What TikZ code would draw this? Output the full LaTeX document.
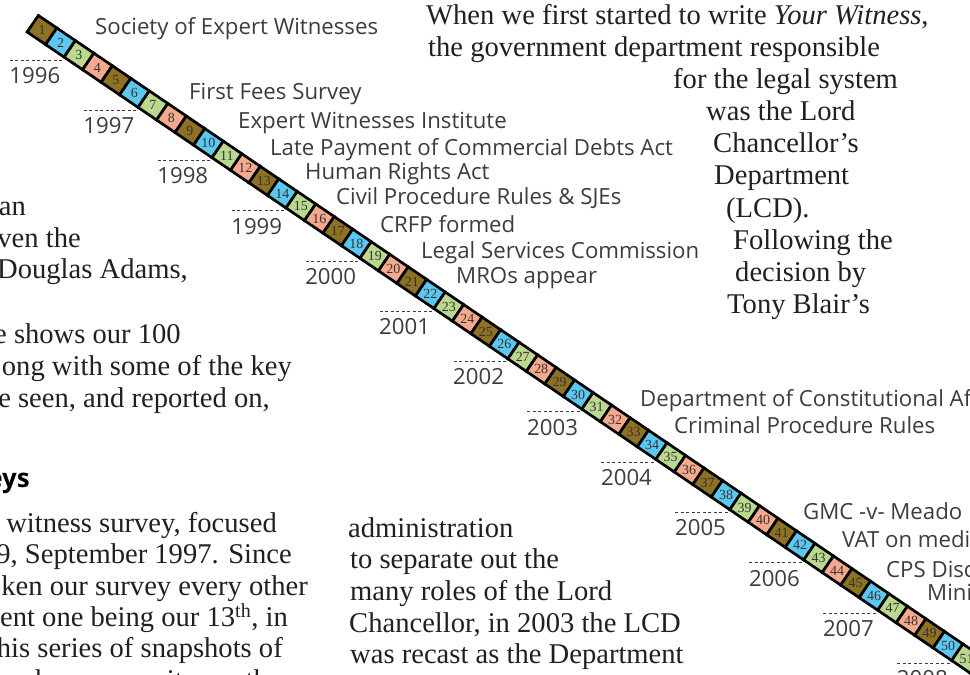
\documentclass[tikz,border=0pt]{standalone}
\usepackage{fontspec}
\setmainfont{Liberation Serif}
\newfontfamily\evfont{Open Sans}
\usepackage{xcolor}
\usetikzlibrary{positioning}
\definecolor{sqfill0}{HTML}{8E7122}
\definecolor{sqfill1}{HTML}{5CC8F2}
\definecolor{sqfill2}{HTML}{BAD98E}
\definecolor{sqfill3}{HTML}{F6AA8D}
\definecolor{evgray}{HTML}{3C3C3C}
\definecolor{bodyblack}{HTML}{231F20}

\begin{document}
\begin{tikzpicture}[
    x=1bp, y=-1bp,
    sq/.style={draw=black, line width=2.7bp, minimum width=22.36bp, minimum height=20bp,
               inner sep=0pt, rotate=-34.2},
    sqnum/.style={font=\fontsize{14}{14}\selectfont, text=black!80, inner sep=0pt},
    event/.style={font=\evfont\fontsize{22.3}{24}\selectfont, text=evgray, anchor=base west, inner sep=0pt},
    yearlbl/.style={event, anchor=north west},
    yeardash/.style={dash pattern=on 3bp off 2.5bp, line width=0.9bp, evgray},
    body/.style={font=\fontsize{28.7}{31.7}\selectfont, text=bodyblack, anchor=base west, inner sep=0pt},
    bodyr/.style={body, anchor=base east},
    head/.style={font=\evfont\bfseries\fontsize{26}{28}\selectfont, text=black, anchor=base east, inner sep=0pt},
]
\useasboundingbox (0,0) rectangle (970,675);
\clip (0,0) rectangle (970,675);

% Timeline strip
\foreach \i in {1,...,52}{
  \pgfmathtruncatemacro{\c}{mod(\i-1,4)}
  \node[sq, fill=sqfill\c] (sq\i) at ({42+(\i-1)*18.49},{30+(\i-1)*12.57}) {};
  \node[sqnum] at (sq\i) {\i};
}

% Year markers
\foreach \yr [count=\k from 0] in {1996,...,2008}{
  \pgfmathtruncatemacro{\n}{3+4*\k}
  \draw[yeardash] ([yshift=-2.5bp]sq\n.south west) -- ++(-53,0) coordinate (ys\k);
  \node[yearlbl] (yr\yr) at ([yshift=-7bp]ys\k) {\yr};
}

% Events
\node[event] (ev1) at (95,35) {Society of Expert Witnesses};
\node[event] (ev2) at (189,100) {First Fees Survey};
\node[event] (ev3) at (238,129) {Expert Witnesses Institute};
\node[event] (ev4) at (270,156) {Late Payment of Commercial Debts Act};
\node[event] (ev5) at (305,180) {Human Rights Act};
\node[event] (ev6) at (336,204) {Civil Procedure Rules \& SJEs};
\node[event] (ev7) at (380,232) {CRFP formed};
\node[event] (ev8) at (421,258) {Legal Services Commission};
\node[event] (ev9) at (456,283) {MROs appear};
\node[event] (ev10) at (640,406) {Department of Constitutional Af};
\node[event] (ev11) at (674,433) {Criminal Procedure Rules};
\node[event] (ev12) at (803,519) {GMC -v- Meado};
\node[event] (ev13) at (842,547) {VAT on medi};
\node[event] (ev14) at (886,577) {CPS Disc};
\node[event] (ev15) at (927,600) {Mini};

% Body text, top right
\node[body] (tr1) at (426,25) {When we first started to write \textit{Your Witness},};
\node[body] (tr2) at (428,57) {the government department responsible};
\node[body] (tr3) at (673,89) {for the legal system};
\node[body] (tr4) at (706,121) {was the Lord};
\node[body] (tr5) at (713,153) {Chancellor's};
\node[body] (tr6) at (714,185) {Department};
\node[body] (tr7) at (726,217) {(LCD).};
\node[body] (tr8) at (733,249) {Following the};
\node[body] (tr9) at (735,281) {decision by};
\node[body] (tr10) at (727,313) {Tony Blair's};

% Body text, left column
\node[bodyr] (lc1) at (26,215) {an};
\node[bodyr] (lc2) at (81,247) {ven the};
\node[bodyr] (lc3) at (188,278) {Douglas Adams,};
\node[bodyr] (lc4) at (181,343) {e shows our 100};
\node[bodyr] (lc5) at (292,375) {ong with some of the key};
\node[bodyr] (lc6) at (270,407) {e seen, and reported on,};
\node[head] (hd) at (30,487) {eys};
\node[bodyr] (lc7) at (277,532) {witness survey, focused};
\node[bodyr] (lc8) at (292,563) {9, September 1997. Since};
\node[bodyr] (lc9) at (308,595) {ken our survey every other};
\node[bodyr] (lc10) at (288,626) {ent one being our 13\textsuperscript{th}, in};
\node[bodyr] (lc11) at (283,657) {his series of snapshots of};
\node[bodyr] (lc12) at (268,689) {e has proven its worth};

% Body text, bottom middle
\node[body] (bm1) at (348,537) {administration};
\node[body] (bm2) at (350,568) {to separate out the};
\node[body] (bm3) at (350,600) {many roles of the Lord};
\node[body] (bm4) at (349,632) {Chancellor, in 2003 the LCD};
\node[body] (bm5) at (350,663) {was recast as the Department};
\end{tikzpicture}
\end{document}
